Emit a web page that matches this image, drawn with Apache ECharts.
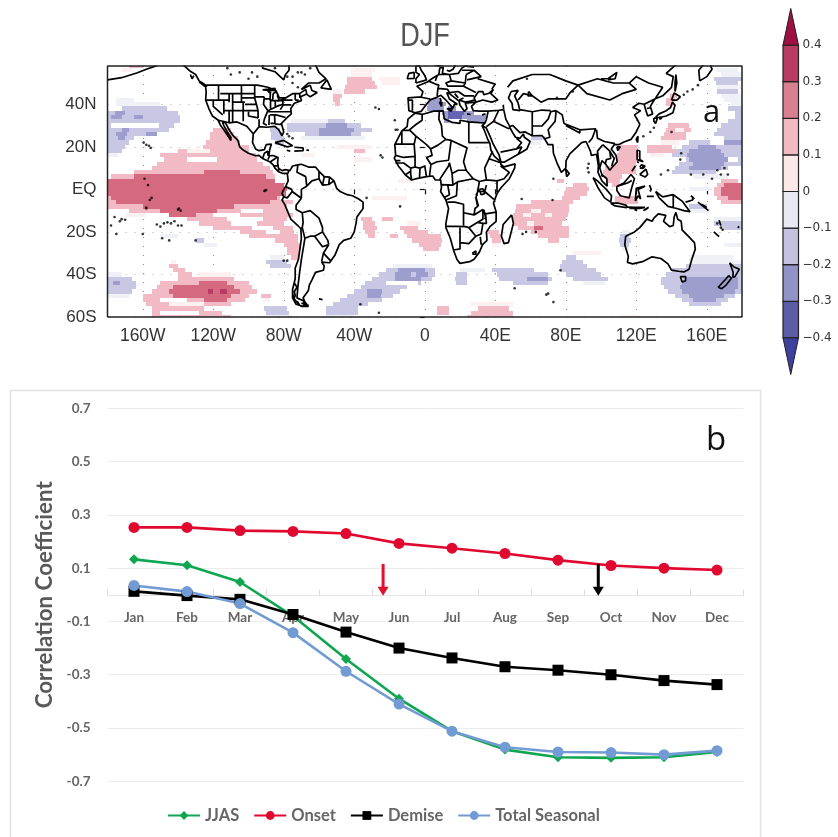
<!DOCTYPE html>
<html><head><meta charset="utf-8"><style>html,body{margin:0;padding:0;background:#fff}#c{width:838px;height:837px}</style>
<script src="https://cdn.jsdelivr.net/npm/echarts@6/dist/echarts.min.js"></script></head><body><div id="c"></div>
<script>
// ---------- panel b data ----------
const months = ['Jan','Feb','Mar','Apr','May','Jun','Jul','Aug','Sep','Oct','Nov','Dec'];
const jjas   = [0.133,0.111,0.048,-0.08,-0.241,-0.39,-0.512,-0.581,-0.61,-0.612,-0.61,-0.59];
const onset  = [0.253,0.253,0.241,0.238,0.23,0.193,0.175,0.155,0.13,0.11,0.10,0.093];
const demise = [0.013,-0.003,-0.017,-0.074,-0.14,-0.2,-0.237,-0.27,-0.283,-0.30,-0.322,-0.337];
const total  = [0.035,0.012,-0.033,-0.142,-0.287,-0.41,-0.512,-0.572,-0.59,-0.592,-0.60,-0.585];
const arrows = [[5.2,0.116,0.0,'#e0102f'],[9.26,0.116,0.0,'#000000']];
// ---------- panel a data ----------
const lonTicks = [-160,-120,-80,-40,0,40,80,120,160];
const latTicks = [-60,-40,-20,0,20,40];
const barLevels = [-0.4,-0.3,-0.2,-0.1,0,0.1,0.2,0.3];
const barColors = ['#5c5ca6','#9292c6','#c3c3e0','#e9e9f3','#fbe9ea','#f1b9c3','#d97f92','#b73b62'];
const tipColors = ['#3f3f9e','#9e0f42'];
const levelColors = {'-4':'#6565b2','-3':'#9d9dce','-2':'#c8c8e5','-1':'#f0f0f7','0':'#ffffff','1':'#fcf0f1','2':'#f1bac4','3':'#d5697f','4':'#b93a62'};
// rows of correlation classes: [latitude, [lon0, lon1, class], ...] (2 degree rows)
const shadeRows = [
[58,[-168,-160,2],[150,158,1],[122,130,-1]],
[56,[-172,-165,1],[-42,-28,1],[165,178,-1]],
[54,[-42,-30,1],[168,180,-1]],
[52,[-44,-30,2],[-26,-14,1],[164,180,-2]],
[50,[-44,-28,2],[-24,-14,1],[165,178,-2]],
[48,[-45,-27,2],[166,180,-1]],
[46,[-46,-34,2],[-52,-47,1],[138,143,1],[166,178,-2]],
[44,[-52,-47,2],[139,143,2],[168,180,-1]],
[42,[-52,-48,2],[-175,-165,-1],[3,9,-3],[137,142,2],[170,180,-1]],
[40,[-51,-48,2],[-175,-150,-1],[2,12,-3],[137,141,2],[174,180,-1]],
[38,[-172,-146,-2],[1,11,-3],[13,18,-3],[172,180,-2]],
[36,[-180,-140,-2],[-176,-170,-3],[10,13,-3],[13,22,-4],[22,28,-3],[176,180,-2]],
[34,[-180,-139,-2],[-178,-172,-3],[-165,-160,-3],[11,13,-3],[13,21,-4],[21,35,-3],[176,180,-2]],
[32,[-180,-139,-2],[-76,-55,-1],[-55,-45,-2],[11,14,-3],[24,34,-3],[172,180,-2]],
[30,[-180,-142,-2],[-178,-151,0],[-78,-36,-2],[-56,-44,-3],[138,150,2],[168,180,-2]],
[28,[-180,-145,-2],[-172,-168,-3],[-120,-110,2],[-88,-82,-2],[-78,-30,-2],[-60,-40,-3],[137,151,2],[142,147,1],[166,180,-2]],
[26,[-180,-155,-2],[-175,-169,-3],[-158,-152,-3],[-122,-108,2],[-87,-81,-2],[-68,-36,-2],[-60,-42,-3],[136,148,2],[164,180,-2]],
[24,[-180,-165,-2],[-174,-170,-3],[-122,-106,2],[-87,-80,-2],[-70,-34,-1],[60,68,-2],[134,148,2],[170,180,-2]],
[22,[-180,-168,-2],[-124,-105,2],[-85,-80,-2],[60,66,-1],[134,144,1],[150,162,-2],[170,180,-3]],
[20,[-180,-170,-2],[-126,-100,2],[-50,-30,1],[111,121,2],[126,140,2],[146,180,-2],[155,165,-3]],
[18,[-180,-172,-2],[-140,-100,2],[-135,-122,1],[-40,-34,2],[110,121,2],[126,142,2],[142,180,-2],[150,168,-3]],
[16,[-180,-174,-1],[-150,-96,2],[-70,-62,1],[109,122,2],[128,136,1],[140,180,-2],[149,170,-3]],
[14,[-148,-95,2],[-135,-118,0],[-40,-30,1],[109,121,2],[148,180,-2],[150,172,-3],[172,178,0]],
[12,[-152,-92,2],[108,120,2],[144,180,-2],[152,170,-3]],
[10,[-155,-88,2],[102,112,2],[112,120,2],[142,172,-2],[150,168,-3]],
[8,[-165,-86,2],[-125,-105,3],[101,120,2],[140,165,-2]],
[6,[-178,-85,2],[-165,-90,3],[102,112,2],[152,172,-1]],
[4,[-180,-85,3],[-15,-6,1],[75,79,2],[103,111,2],[168,178,2]],
[2,[-180,-80,3],[84,92,2],[106,110,2],[166,180,2],[170,180,3]],
[0,[-180,-78,3],[80,93,2],[150,162,-1],[164,180,2],[168,180,3]],
[-2,[-180,-79,3],[79,92,2],[164,180,2],[168,180,3]],
[-4,[-180,-82,2],[-178,-84,3],[-30,-10,1],[78,88,2],[108,120,2],[166,180,2],[172,180,3]],
[-6,[-180,-75,2],[-175,-88,3],[60,84,2],[108,121,2],[168,180,2]],
[-8,[-180,-78,2],[-160,-108,3],[52,82,2],[150,160,-2]],
[-10,[-178,-78,2],[-150,-118,3],[-178,-168,0],[-104,-92,0],[51,82,2],[60,66,1],[150,162,-1]],
[-12,[-140,-75,2],[-145,-130,3],[-120,-105,0],[50,81,2],[56,60,1],[68,72,1],[-170,-158,1]],
[-14,[-135,-78,2],[-112,-92,0],[-36,-30,2],[-24,-18,2],[50,80,2],[164,180,-1]],
[-16,[-128,-80,2],[-110,-95,0],[-35,-28,2],[-10,-2,1],[50,78,2],[58,62,1],[164,180,-2]],
[-18,[-120,-75,2],[-98,-86,0],[-35,-27,2],[-14,-4,2],[53,82,2],[62,67,3],[168,180,-2]],
[-20,[-105,-74,2],[-90,-82,0],[-34,-28,2],[-12,2,2],[36,42,2],[60,82,2],[112,116,-1]],
[-22,[-100,-72,2],[-150,-140,-1],[-32,-28,2],[-20,-15,2],[-10,9,2],[37,43,2],[64,82,2],[111,116,-2]],
[-24,[-85,-72,2],[-130,-125,-2],[-7,10,2],[38,43,2],[70,76,2],[110,117,-2]],
[-26,[-80,-71,2],[-125,-118,-1],[-3,9,2],[38,42,1],[111,116,-2],[170,180,-1]],
[-28,[-78,-71,2],[-1,8,2],[112,116,-1]],
[-30,[-78,-71,2],[84,100,1]],
[-32,[-76,-72,2],[-88,-80,-1],[80,86,-2],[150,175,-1]],
[-34,[-144,-141,1],[-90,-78,-2],[78,90,-2],[150,180,-1]],
[-36,[-145,-140,2],[-88,-76,-2],[-18,4,-1],[77,92,-2],[148,180,-2]],
[-38,[-143,-136,2],[-22,6,-2],[-15,0,-3],[20,34,-1],[77,97,-2],[38,62,-2],[140,180,-2]],
[-40,[-140,-132,2],[-128,-110,1],[-26,6,-2],[-17,-8,-3],[-5,2,-3],[18,24,-2],[41,70,-2],[80,100,-2],[137,180,-2],[-180,-172,-1]],
[-42,[-180,-166,-2],[-140,-108,2],[-30,4,-2],[-17,-2,-3],[17,24,-2],[42,72,-2],[58,70,-3],[84,104,-2],[134,180,-2],[148,178,-3]],
[-44,[-180,-164,-2],[-177,-173,-3],[-150,-100,2],[-128,-112,3],[-34,-2,-2],[-22,-4,0],[18,24,-2],[50,70,-2],[90,102,-1],[134,180,-2],[146,178,-3]],
[-46,[-180,-164,-2],[-152,-98,2],[-143,-108,3],[-36,-10,-2],[136,180,-2],[145,178,-3]],
[-48,[-180,-166,-2],[-155,-95,2],[-145,-105,3],[-123,-120,4],[-116,-112,4],[-40,-14,-2],[-33,-24,-3],[138,180,-2],[146,176,-3]],
[-50,[-180,-168,-1],[-160,-100,2],[-143,-110,3],[-93,-87,2],[-44,-18,-2],[-33,-25,-3],[142,176,-2],[150,170,-3]],
[-52,[-160,-102,2],[-125,-112,3],[-150,-135,0],[-92,-88,1],[-48,-24,-2],[146,172,-2],[152,165,-3]],
[-54,[-158,-110,2],[-145,-125,1],[-52,-32,-2],[150,168,-2],[26,50,1]],
[-56,[-155,-125,2],[-91,-78,-2],[-56,-38,-2],[7,14,2],[30,48,2]],
[-58,[-155,-115,2],[-150,-128,0],[-90,-77,-2],[-56,-38,-2],[7,14,2],[26,50,2]],
[-60,[-155,-110,2],[-90,-76,-1],[-56,-40,-1],[24,50,2],[112,122,1]]
];
// coastlines and borders as [lon,lat] polylines
const coasts = [
[[-180,51.5],[-172,52.5],[-163,54.8],[-158,56.5],[-152,58.2]],
[[-137,58.5],[-133,55.5],[-130,54],[-128,51],[-124.5,49],[-124,46],[-124.3,42],[-122.5,38],[-120.5,34.5],[-117.3,32.6],[-115.8,30],[-114,28],[-112,25.5],[-110,23],[-110,24.5],[-112,27],[-114,30],[-114.8,31.7],[-113,31.2],[-111,28],[-109,25.5],[-106,23],[-105,20],[-103,18.5],[-100,17],[-96,15.8],[-94,16],[-92,14.5],[-88,13],[-86,11.5],[-85,10],[-83,8.3],[-80.5,7.5],[-78,7.5],[-77.5,4],[-78.8,1.5],[-80,0],[-81,-2],[-80,-3.5],[-81,-5],[-79.5,-7],[-78,-10],[-76,-14],[-72,-17],[-70.3,-18.5],[-70,-23],[-71,-29],[-71.7,-33],[-73.5,-37],[-73.5,-42],[-75,-47],[-75,-51],[-73,-54],[-69,-55],[-66,-55],[-68,-53],[-69,-51],[-66,-47.5],[-65.5,-45],[-64,-42.5],[-62,-39],[-57.5,-38],[-57,-36],[-58.5,-34.2],[-54,-34.5],[-51,-31],[-48.5,-26],[-46,-24],[-42,-23],[-40,-20],[-39,-16],[-38.5,-13],[-35,-9],[-35,-6],[-37.5,-4.5],[-41,-3],[-44,-2.5],[-48,-1],[-50,0.5],[-51.5,4],[-54,5.8],[-57,6],[-60,8.5],[-62,10.5],[-66,10.5],[-70,11.8],[-72,11.5],[-75,11],[-76.5,8.8],[-79,9.3],[-81,8.8],[-83,10],[-83.5,12.5],[-83.2,15],[-86,15.9],[-88.5,15.8],[-88,18.5],[-87,21.3],[-90,21],[-91,18.7],[-94,18.2],[-96,19],[-97.7,22],[-97.3,26],[-94,29.5],[-90,29.2],[-85,29.6],[-82.8,28],[-81,25.2],[-80,27],[-81.3,31],[-78,33.8],[-75.7,35.5],[-76,38],[-74,40.5],[-70,41.7],[-70.5,43.5],[-67,44.8],[-65,43.5],[-61,45.5],[-64,46.5],[-65,49],[-70,47],[-66,50],[-60,50],[-56,52],[-60,55],[-62,58.5]],
[[-92,58.5],[-92,57],[-85,55.3],[-82,53],[-80,51.5],[-79,54],[-77,56],[-77,58.5]],
[[-59,47.7],[-53,47],[-55.5,51.5],[-59,47.7]],
[[-128,50.5],[-125,48.5],[-123.5,48.5],[-127,50.5]],[[-133,54],[-132,52],[-131,53.5]],
[[-85,22],[-80,23],[-75,20.5],[-78,20],[-85,22]],[[-74,19.8],[-69,19.5],[-69,18.2],[-74,18]],[[-67.2,18.5],[-65.7,18.3]],[[-78.3,18.4],[-76.3,18]],
[[-124,49],[-95,49],[-89,48],[-84.5,46.5],[-82.5,43],[-79,43],[-75,45],[-71,45],[-67.5,47],[-67,45]],
[[-87.5,46],[-87.8,42],[-86.3,42],[-86,45],[-84.7,45.8],[-83.5,45],[-83.5,43.7],[-82.6,42]],[[-92,46.8],[-85,47.5],[-84.7,46.5],[-88,46.5],[-92,46.8]],[[-83.5,41.5],[-79,42.7]],
[[-117,32.5],[-111,31.3],[-106.5,31.7],[-101,29.7],[-97.2,26]],
[[-117,49],[-117,42]],[[-124.3,42],[-111,42]],[[-120,42],[-120,39],[-114.6,35]],[[-114,42],[-114,35.5]],[[-111,45],[-111,41]],[[-111,37],[-111,31.3]],[[-109,45],[-109,31.5]],[[-116,45],[-111,45],[-104,45]],[[-104,49],[-104,41]],[[-103,41],[-103,32]],[[-114,37],[-94.6,37]],[[-109,41],[-102,41]],[[-104,45],[-96.5,45]],[[-104,43],[-96.5,43]],[[-102,40],[-95.3,40]],[[-96.5,49],[-96.5,43],[-95.5,40],[-94.6,37],[-94.5,33.6]],[[-100,36.5],[-100,34.5],[-94.5,33.6]],[[-94,33],[-94,29.7]],[[-91,43.5],[-91.5,40],[-89,37],[-90,35],[-91,33],[-91.5,31],[-89.6,30.2]],[[-96.5,43.5],[-91,43.5]],[[-90,47],[-87.5,45]],[[-87.5,42],[-87.5,38]],[[-91,42.5],[-87.8,42.5]],[[-84.8,41.7],[-84.8,39]],[[-87.5,41.7],[-80.5,41.7]],[[-80.5,42],[-80.5,39.7],[-75.7,39.7]],[[-80.5,42],[-75,42]],[[-89,36.5],[-75.8,36.5]],[[-88,35],[-84.3,35]],[[-88.2,35],[-88.4,30.3]],[[-85.2,35],[-85,31],[-87.5,31]],[[-85,30.8],[-82,30.5],[-81.3,31]],[[-84.3,35],[-79,33.8]],[[-89,37],[-84,39],[-80.5,40]],[[-82,37.5],[-80,40]],[[-73.5,42],[-73.5,45]],[[-71.5,42],[-73.5,42]],[[-71,45],[-70.8,43]],
[[-92,14.5],[-91,17],[-89,18]],[[-89,18],[-89,15.8]],[[-89,14],[-88,15.8]],[[-87.5,13],[-84,15]],[[-85.7,11],[-83.7,11]],[[-83,8.3],[-82.8,9.6]],
[[-79,1.3],[-75.5,0],[-75.2,-1]],[[-80.3,-3.4],[-78,-4],[-75.2,-1]],[[-75.2,-1],[-70,-4.2],[-70,0],[-67,1.5],[-67.5,6]],[[-72,11.5],[-72.5,8],[-67.5,6]],[[-67,1.5],[-64,4],[-60,5],[-60,8.5]],[[-57,6],[-58,2]],[[-54,5.8],[-54.5,2.3]],[[-60,5],[-58,2],[-54.5,2.3],[-51.5,4]],[[-77.5,7.5],[-77.3,8.7]],
[[-70,-4.2],[-73,-7.5],[-73,-9.5],[-69.5,-11],[-69,-15.5],[-69.5,-18],[-70.3,-18.5]],[[-69.5,-11],[-65,-10],[-60,-13.5],[-58,-18],[-58,-20],[-62.5,-22]],[[-69.5,-18],[-68,-23],[-65,-22],[-62.5,-22]],[[-68,-23],[-70,-33],[-71,-39],[-72,-46],[-72.5,-51],[-68.6,-52.5],[-68.6,-55]],[[-62.5,-22],[-58,-27],[-54.5,-26]],[[-58,-20],[-55,-24],[-54.5,-26]],[[-54.5,-26],[-57.5,-30],[-58.5,-34]],[[-57.5,-30],[-53.5,-33.5]],
[[-74,-44],[-72.5,-46],[-74,-48],[-73.5,-50],[-74.5,-52],[-72,-53],[-71,-54.5],[-74,-51.5],[-75,-49]],[[-70,-53.5],[-66,-54.5],[-70,-55],[-72,-54]],[[-60,-51.5],[-58,-51.8]],
[[-5.5,35.8],[-9.5,33],[-10,29.5],[-13,27.5],[-17,21],[-16.5,16],[-17.3,14.7],[-15,11],[-13,9],[-11,6.8],[-7.5,4.4],[-4,5.2],[1,6],[4.5,6.3],[6,4.4],[9,4.5],[9.5,1],[9,-1],[12,-5],[13.5,-9],[12,-16],[12,-18],[14.5,-23],[16.5,-29],[18.3,-33],[20,-34.8],[25.5,-34],[28,-32.8],[31,-29.5],[32.8,-26],[35.3,-24],[35,-20],[37,-17.5],[40.5,-15],[40.5,-10.5],[39,-6.5],[41,-2],[43.5,1],[48,5],[51,10],[51.3,12],[45,10.6],[43.2,11.7],[43,13],[39.5,15.5],[37.5,18.5],[37,21.5],[35.5,24],[33.7,28],[32.5,30],[34.3,31.3],[31,31.4],[25,31.7],[20,32.5],[20,31],[15.5,31.5],[11,33.2],[10.5,36.9],[5,36.8],[-1,35.3],[-5.5,35.8]],
[[32.5,30],[34.8,29],[37,25],[39,21],[42,16.5],[43.3,12.8],[45,12.8],[52,16],[55,17.5],[58,19],[59.8,22.5],[56.5,24.5],[56,26],[54,24],[51.5,24.5],[50,26.5],[48,29.5],[50,30],[54,26.7],[57,27],[61,25.2],[66.5,25.3],[68,23.8],[70,21],[72.7,21],[73,17],[75,12.5],[77.5,8],[80,10],[80.2,13.5],[82.3,16.7],[86.5,20],[89,22],[91.5,22.5],[94,18],[94.5,16],[97.5,16.5],[98.5,11],[98.3,8],[100.5,4],[103.5,1.5],[104,2],[103.3,5],[100.5,7],[99.3,10],[100.5,13.5],[102.5,12],[105,9],[106.5,10.5],[109.2,13],[108.5,16],[105.8,19],[107.5,21],[110,21],[113,22.3],[117,23.5],[120,27],[122,30.5],[120.5,33],[119,35],[122.5,37],[118,38.5],[121.5,40.5],[124.5,40],[125.3,37.5],[126.5,34.5],[129.3,35.5],[128,39],[130.5,42.5],[135,44],[140,48],[141,53],[137,54.5],[143,59]],
[[-5.5,36],[-9,37],[-9.5,43],[-2,43.5],[-1,46],[-4.5,48.5],[1.5,50.5],[4,52],[8,54],[8.5,57],[10.5,57.5],[10,54.5],[14,54],[19,54.5],[21,57],[24,58.5]],
[[-5.5,36],[-2,36.7],[0,39],[3,42],[6,43],[9,44.3],[12,42],[16,38.2],[16.8,40],[18.5,40],[14,42.5],[12.5,45.5],[14,45],[19.5,41.5],[20,39.5],[22.5,36.7],[24,38],[23,40.5],[26,40.8],[29,41],[26.5,39],[27.5,37],[31,36.8],[36,36.8],[35,33],[34.3,31.3]],
[[29,41],[28,43],[30.5,46],[33,46],[33.5,44.5],[36.5,45.2],[39,47],[37.5,45],[41.5,42],[38,41],[33,42],[29,41]],
[[49,46],[53,46.5],[51,44],[53,40.5],[54,37],[50,37.5],[49.5,40.5],[47.5,43],[49,46]],[[59,46],[61,44],[58.5,44],[59,46]],
[[-5,50],[1,51.5],[0,53.5],[-2,56],[-3,58],[-5,58],[-5,55],[-3,54],[-5,52],[-5,50]],[[-10,52],[-6,52.2],[-6,55],[-9,54.5],[-10,52]],[[12.5,38],[15.5,38],[15,36.7],[12.5,38]],[[8.3,41],[9.7,41],[9.5,39],[8.5,39],[8.3,41]],[[8.7,43],[9.5,42.8],[9.3,41.5]],[[24,35.5],[26,35.2]],[[32.5,35],[34.5,35.5]],
[[5.5,58.5],[8,58],[11,59]],[[12.5,56],[14,55.5],[16,56.5],[17.5,58.5]],
[[49.3,-12],[50.3,-16],[47.5,-25],[45,-25.5],[43.5,-22],[44.5,-16.5],[49.3,-12]],[[80,9.5],[82,7.5],[80.5,6],[80,9.5]],
[[95.5,5.5],[98,4],[103,0],[106,-3],[105.5,-6],[102,-4],[98.5,0.5],[95.5,5.5]],[[105.5,-6.5],[110,-6.5],[114.5,-7.5],[114.5,-8.6],[108,-7.8],[105.5,-6.5]],[[115,-8.3],[119,-8.5],[125,-8.5],[122,-9],[116,-9]],[[124,-10],[127,-8.4],[125,-9.8]],[[119,-9.5],[120.5,-10]],
[[109,1.5],[113,3],[117,7],[119,5],[117.5,1],[116,-4],[111,-3],[109,-0.5],[109,1.5]],[[119.5,-5.5],[120,0.5],[125,1.5],[121,0],[122.5,-4.5],[121,-3],[119.5,-5.5]],[[127.5,2],[128.5,0],[127.8,-1]],[[126,-3.3],[130,-3.3]],
[[131,-1],[135,-3.5],[141,-2.5],[146,-5.5],[150.5,-10.5],[147,-10],[143,-9],[138,-8],[133,-4],[131,-1]],[[141,-2.5],[141,-9]],[[148,-6],[152,-5],[152,-4.2]],[[151,-3],[153,-4.5]],
[[120.5,18.5],[122,18],[122,14],[124,13],[120.5,14],[120.5,18.5]],[[122,7],[125.5,9.5],[126.5,7],[125,5.8],[122,7]],[[117.5,8.5],[119.5,11]],[[122,10.5],[123,11.5],[125,11],[124,10],[122,10]],[[123,9.5],[124,11]],[[120.5,13],[121.5,12.5]],
[[121,25],[122,24.5],[120.8,22],[120,23.5],[121,25]],[[109,20],[111,20],[109.5,18.3],[109,20]],
[[131,34],[133,35.5],[137,37],[139.5,38.5],[140.5,41],[142,39.5],[140.8,36],[137,34.5],[133,33.8],[131,34]],[[130,33.5],[132,33.5],[131,31],[130,32],[130,33.5]],[[133,34],[134.5,33.5],[133,33]],[[140,42],[141.5,45.3],[145,43.5],[143,42],[140,42]],[[142,46],[143,50],[142.5,54],[142,50],[142,46]],[[156,51],[155.5,56],[158,58.5]],[[156,51],[160,53],[163,56.5],[162,58.5]],
[[114,-22],[113.5,-26],[115.5,-31.5],[115,-34.3],[118,-35],[123.5,-34],[129,-31.7],[134,-32.5],[138,-35],[140,-38],[144,-38.5],[147,-38.8],[150,-37.5],[151.5,-33],[153.5,-28],[153,-25],[149.5,-22],[146,-19],[145.5,-15],[143.5,-14],[142.5,-10.8],[141.5,-13],[141,-17],[139,-17.5],[135.5,-15],[136.8,-12.2],[132.5,-11.5],[130,-13.5],[129,-15],[126,-14],[122,-18],[119,-20],[114,-22]],
[[145,-41],[148,-41],[148,-43],[146,-43.5],[145,-41]],[[173,-34.5],[175.5,-36.5],[178.5,-37.5],[176,-41],[174.8,-41.3],[175,-39],[173,-34.5]],[[172.5,-40.5],[174,-41.8],[171,-45],[168.5,-46.7],[166.5,-46],[171,-42],[172.5,-40.5]],[[164,-20],[167,-22.2]],[[155,-6],[158,-8],[161,-10]],[[157,-7],[160,-8.5]],[[167,-14.5],[168,-17]],[[177.5,-18],[178.5,-17.5]],
[[-1.5,35],[-1.5,32.5],[-5,30.5],[-8.7,28],[-8.7,27.3],[-5,25]],[[-13,27.7],[-8.7,27.7]],[[-13,21.3],[-17,21.3]],[[-13,27.7],[-13,21.3],[-6,21.3],[-5,25]],[[-16.5,16],[-12,15],[-5.5,15.5],[-6,21.3]],[[-5,25],[1,21],[3.3,19],[4.2,16],[1,15],[3.5,11.7],[7,13],[13.5,13.7],[15,23],[12,23.5],[7.5,20.8],[3.3,19]],[[8.3,36.9],[8,33],[9.5,30],[10,25],[12,23.5]],[[25,31.7],[25,22],[37,22]],[[15,23],[24,19.5],[22,13],[23.5,9],[19,9],[15.5,7.5],[14,12.5]],[[23.5,9],[27.5,5],[31,3.7],[35,4.5],[34,10],[36.5,14.5],[38.5,18]],[[36,14.5],[43,12.5]],[[43,11],[48,8],[45,5],[41,4],[35,4.5]],[[41,-1.5],[41,4]],[[34,-1],[39.2,-4.7]],[[31,3.7],[30,-1],[34,-1],[35,2]],[[30,-1],[29,-4],[30,-8],[28.5,-9],[28,-12],[22,-11],[22,-7],[17,-6],[13,-6]],[[22,-11],[22,-17]],[[12,-17.3],[23,-17.5],[25,-18]],[[28,-12],[33,-9.5],[33,-14],[30,-15.5],[25,-18]],[[34.5,-11.5],[40.5,-10.7]],[[33,-9.5],[34.5,-11.5],[35,-16],[33,-16],[30,-15.5]],[[25,-18],[29,-22],[32,-21],[33,-16]],[[20,-18],[20,-28],[16.5,-28.5]],[[20,-25],[25,-25.5],[29,-22]],[[31.5,-22.3],[32,-26]],[[27,-30],[29,-29],[29,-30.5],[27.5,-30.5],[27,-30]],[[-16.7,12.4],[-12,12.4],[-8,10],[-8,7.5],[-7.5,4.5]],[[-11,6.9],[-8,8.5]],[[-3,5],[-2.7,10],[0,11],[1,6]],[[-8,10],[-5.5,10.5],[-5.5,15.5]],[[-5.5,10.5],[-2.7,10]],[[2.7,6.4],[3.5,11.7]],[[8.5,4.7],[13.5,11],[14,12.5]],[[15.5,7.5],[16,2],[9.8,2.2]],[[16,2],[18.5,3.5],[18,-3],[12,-5]],[[18.5,3.5],[27.5,5]],[[13,2.2],[14,-2.5],[11,-3.8]],[[-16.5,13.6],[-13.8,13.5]],[[29,-2],[30,-3]],[[33.5,-9.5],[34.5,-13],[34,-14]],[[31,0],[33,0.3],[34,-2],[32,-2.5],[31,0]],[[29,-3.5],[30.5,-8]],
[[36,36.8],[42,37.2],[44.8,37.5],[46,33],[48,30]],[[35,29.5],[39,32],[46.5,29],[48,28.5]],[[44.5,39.7],[44.8,37.5]],[[42,37.2],[39,32]],[[61,25.3],[61,31],[61,36.5]],[[61,29.8],[66.5,29.8],[70,33],[71.5,36.5],[74.5,37]],[[54,37.5],[61,36.5],[66.5,37.3],[71.5,37]],[[43,17.5],[52,19],[55,22],[52,24]],[[52,19],[55,20],[53,16.5]],[[53,42],[56,45],[61,44],[66,41],[70,42.5],[80,42.5],[82.5,45.5],[87,49],[80,51],[71,54],[61,54],[50,51],[47,48]],[[68,23.8],[71,24.5],[70,28],[74,32],[74.5,37]],[[74.5,37],[78,35],[79,31],[88,28],[97,28.5],[95,24],[93,22]],[[80,30],[88,26.5],[88,28]],[[87,49],[92,45],[105,42],[112,45],[120,47],[116,50]],[[87,49],[98,52],[107,50],[116,50]],[[116,50],[120,53],[127,50],[135,48],[131,43]],[[124.5,40],[130.5,42.5]],[[126,38],[128.5,38.5]],[[108,21.5],[102,22.5],[98,24],[97.5,28]],[[101,21],[98,18],[99,11]],[[101,21],[105,18],[105.5,14.5],[103,14],[102.5,12]],[[105,18],[107.5,14.5],[106,11]],[[109.5,1.5],[115,3],[117.5,4.2]],[[100,6.5],[102,6]],[[100,52],[104,52],[109,55],[108,52],[104,51.5]],
[[-9,42],[-7,42],[-7,37]],[[-2,43.3],[3,42.5]],[[2,51],[6,49.5],[8,49],[7.5,47.5],[7,44]],[[7.5,47.5],[13,47],[14,45.5]],[[6,51],[7,53.3]],[[14,54],[15,51],[23,50],[23.5,54]],[[15,51],[12,50],[13,48.5],[17,48.5],[22,48.5],[23,50]],[[22,48.5],[29,45.5]],[[19,46],[22.5,44],[28,44]],[[19.5,42],[23,41],[26,41.5],[28,42]],[[19,46],[14,45.5]],[[30,52],[40,49.5],[38,47]],[[23.5,54],[28,56],[32,53],[24,51.5]],[[21,56],[28,56]],[[22,58],[28,57.5]],[[19.5,42],[22,43]],[[17,45],[19,43]],[[8,54],[14,54]]
];
// small islands shown as dots [lon,lat]
const islands = [[-158,21],[-156.5,20.5],[-155.5,19.5],[-159.5,22],[-157,2],[-159,5],[-156,-5],[-158,-8.5],[-155,-4],[-158,-9],[-139.5,-9],[-140,-9.5],[-138.5,-10],[-90.5,-0.5],[-91,-0.8],[-90,-0.3],[-172,-14],[-170,-14.3],[-176,-13],[-175,-21],[-178,-17],[-160,-21],[-152,-16.5],[-150,-17.5],[-148,-16],[-146,-15.5],[-144,-16],[-142,-15],[-140,-17],[-138,-17],[-149,-23],[-145,-24],[-130,-24],[-173,-15],[-80,-33.5],[-78,-33.5],[-36.5,-54],[-26,-58],[-33,-4],[-25,16],[-24,15],[-16.5,28],[-15.5,28],[-17,32.5],[-28,38.5],[-26,37.8],[-75,24],[-77,25],[-78,26],[-14,-8],[51,-46.5],[70,-49],[69,-49.5],[77,-38],[73,-53],[63,-20],[57.5,-20],[55.5,-21],[55,-4.5],[73,5],[72.5,-5],[93,12],[93,8],[92.5,10],[168,7],[170,10],[166,9],[172,7],[145,14],[145.5,17],[134,7],[138,9],[151,7],[158,7],[163,5],[140,27],[124,25],[128,27],[130,29],[147,44.5],[149,46],[152,47],[155,49],[166,-16],[168,-18],[169,-19],[-105,55],[-110,54],[-100,52],[-98,55],[-95,53],[-72,48],[-75,50],[-68,54],[-78,53],[-70,55],[-65,57],[-85,57],[-112,57],[-72,55],[-75,53],[84,46],[75,43],[58,52],[105,52]];
// ---------- option ----------
const black = '#111';
function seg(list){const o=[];list.forEach(l=>{l.forEach(p=>o.push(p));o.push(['-','-']);});return o;}
const shadeData=[];shadeRows.forEach(r=>{for(let i=1;i<r.length;i++)shadeData.push([r[i][0],r[i][1],r[0],r[i][2]]);});
const barData=barLevels.map((v,i)=>[v,+(v+0.1).toFixed(1),barColors[i]]);
const mapFont='"Liberation Sans",Arial,sans-serif';
const chartFont='Lato,"Open Sans",sans-serif';
const option={
animation:false,backgroundColor:'#fff',
title:[
{text:'a',left:698,top:93,textStyle:{fontFamily:'"Open Sans",sans-serif',fontSize:31,fontWeight:'normal',color:'#111'}},
{text:'b',left:701,top:419,textStyle:{fontFamily:'"Open Sans",sans-serif',fontSize:33,fontWeight:'normal',color:'#111'}}
],
graphic:[
{type:'rect',silent:true,z:-1,shape:{x:10.5,y:390.5,width:750,height:460},style:{fill:'#fff',stroke:'#e3e3e3',lineWidth:1.5}},
{type:'text',silent:true,x:425,y:37,scaleX:0.82,scaleY:1,style:{text:'DJF',font:'33px "Liberation Sans",sans-serif',fill:'#555',textAlign:'center',textVerticalAlign:'middle'}}
],
grid:[
{left:107.5,top:66,width:634.5,height:251,show:true,backgroundColor:'#fff',borderWidth:0},
{left:783,top:8.5,width:15.5,height:366},
{left:107.5,top:408.3,width:636,height:373}
],
xAxis:[
{gridIndex:0,type:'value',min:-180,max:180,
 axisLine:{show:false},
 axisTick:{show:true,length:5,lineStyle:{color:black,width:1.2},customValues:lonTicks},
 axisLabel:{show:true,margin:10,customValues:lonTicks,fontFamily:mapFont,fontSize:17.5,color:'#333',formatter:v=>v===0?'0':Math.abs(v)+(v<0?'W':'E')},
 splitLine:{show:true,lineStyle:{type:[1,8],color:'#888',width:1}}},
{gridIndex:1,type:'value',min:0,max:1,show:false},
{gridIndex:2,type:'category',data:months,boundaryGap:true,position:'bottom',offset:-186,
 axisLine:{show:true,onZero:false,lineStyle:{color:'#e4e4e4',width:1}},
 axisTick:{show:true,length:6,inside:true,lineStyle:{color:'#dcdcdc'}},
 axisLabel:{margin:15,fontFamily:chartFont,fontSize:13.5,fontWeight:'bold',color:'#666',interval:0},
 splitLine:{show:false}},
{gridIndex:2,type:'value',min:0,max:12,show:false}
],
yAxis:[
{gridIndex:0,type:'value',min:-60,max:58,
 axisLine:{show:false},
 axisTick:{show:true,length:5,lineStyle:{color:black,width:1.2},customValues:latTicks},
 axisLabel:{margin:11,customValues:latTicks,fontFamily:mapFont,fontSize:17,color:'#333',formatter:v=>v===0?'EQ':Math.abs(v)+(v<0?'S':'N')},
 splitLine:{show:true,lineStyle:{type:[1,8],color:'#aaa',width:1}}},
{gridIndex:1,type:'value',min:-0.5,max:0.5,interval:0.1,position:'right',
 axisLine:{show:false},axisTick:{show:false},splitLine:{show:false},
 axisLabel:{margin:4,fontFamily:'"DejaVu Sans",sans-serif',fontSize:12,color:'#333',formatter:v=>{v=+v.toFixed(1);return Math.abs(v)>0.45?'':(v<0?'\u2212'+(-v):''+v);}}},
{gridIndex:2,type:'value',min:-0.7,max:0.7,interval:0.2,
 axisLine:{show:false},axisTick:{show:false},
 splitLine:{show:true,lineStyle:{color:'#ececec',width:1}},
 axisLabel:{margin:17,fontFamily:chartFont,fontSize:13.5,fontWeight:'bold',color:'#666',formatter:v=>v.toFixed(1)},
 name:'Correlation Coefficient',nameLocation:'middle',nameGap:46,
 nameTextStyle:{fontFamily:chartFont,fontSize:22.4,fontWeight:'bold',color:'#595959'}}
],
legend:{data:['JJAS','Onset','Demise','Total Seasonal'],left:162,top:802,itemWidth:32,itemHeight:11,itemGap:14,
 textStyle:{fontFamily:chartFont,fontSize:16.5,fontWeight:'bold',color:'#666'}},
series:[
{type:'custom',name:'Correlation',xAxisIndex:0,yAxisIndex:0,clip:true,z:2,data:shadeData,encode:{x:[0,1],y:2},
 renderItem:(p,api)=>{const a=api.coord([api.value(0),api.value(2)+1]),b=api.coord([api.value(1),api.value(2)-1]);
  const x=Math.round(a[0]),y=Math.round(a[1]);
  return {type:'rect',shape:{x:x,y:y,width:Math.round(b[0])-x,height:Math.round(b[1])-y},style:{fill:levelColors[api.value(3)]}};}},
{type:'line',name:'Coast',xAxisIndex:0,yAxisIndex:0,z:4,showSymbol:false,symbol:'none',connectNulls:false,silent:true,data:seg(coasts),lineStyle:{color:'#000',width:1.7}},
{type:'scatter',name:'Islands',xAxisIndex:0,yAxisIndex:0,z:4,symbolSize:2.6,silent:true,itemStyle:{color:'#000'},data:islands},
{type:'line',name:'Frame',xAxisIndex:0,yAxisIndex:0,z:5,clip:false,symbol:'none',silent:true,lineStyle:{color:'#222',width:1.5},data:[[-180,-60],[180,-60],[180,58],[-180,58],[-180,-60]]},
{type:'custom',name:'Colour bar',xAxisIndex:1,yAxisIndex:1,z:3,clip:false,data:barData,
 renderItem:(p,api)=>{const a=api.coord([0,api.value(1)]),b=api.coord([1,api.value(0)]);
  return {type:'rect',shape:{x:a[0],y:a[1],width:b[0]-a[0],height:b[1]-a[1]},style:{fill:barColors[p.dataIndex],stroke:'#222',lineWidth:1.2}};}},
{type:'custom',name:'Colour tips',xAxisIndex:1,yAxisIndex:1,z:3,clip:false,data:[[-0.4,-0.5,0],[0.4,0.5,1]],
 renderItem:(p,api)=>{const e=api.value(0),t=api.value(1);
  return {type:'polygon',shape:{points:[api.coord([0,e]),api.coord([1,e]),api.coord([0.5,t])]},style:{fill:tipColors[api.value(2)],stroke:'#222',lineWidth:1}};}},
{type:'line',name:'JJAS',xAxisIndex:2,yAxisIndex:2,data:jjas,symbol:'diamond',symbolSize:10,z:6,lineStyle:{color:'#0fa650',width:2.6},itemStyle:{color:'#0fa650'}},
{type:'line',name:'Onset',xAxisIndex:2,yAxisIndex:2,data:onset,symbol:'circle',symbolSize:11,z:6,lineStyle:{color:'#e0082f',width:2.6},itemStyle:{color:'#e0082f'}},
{type:'line',name:'Demise',xAxisIndex:2,yAxisIndex:2,data:demise,symbol:'rect',symbolSize:11,z:6,lineStyle:{color:'#000',width:2.6},itemStyle:{color:'#000'}},
{type:'line',name:'Total Seasonal',xAxisIndex:2,yAxisIndex:2,data:total,symbol:'circle',symbolSize:11,z:6,lineStyle:{color:'#729bd3',width:2.6},itemStyle:{color:'#729bd3'}},
{type:'custom',name:'Arrows',xAxisIndex:3,yAxisIndex:2,z:7,clip:false,data:arrows,
 renderItem:(p,api)=>{const t=api.coord([api.value(0),api.value(1)]),b=api.coord([api.value(0),api.value(2)]),c=arrows[p.dataIndex][3];
  return {type:'group',children:[
   {type:'line',shape:{x1:t[0],y1:t[1],x2:b[0],y2:b[1]-6},style:{stroke:c,lineWidth:3}},
   {type:'polygon',shape:{points:[[b[0]-5.5,b[1]-8],[b[0]+5.5,b[1]-8],[b[0],b[1]+1]]},style:{fill:c}}]};}}
]};
const chart=echarts.init(document.getElementById('c'),null,{renderer:'canvas'});
chart.setOption(option);
</script></body></html>
